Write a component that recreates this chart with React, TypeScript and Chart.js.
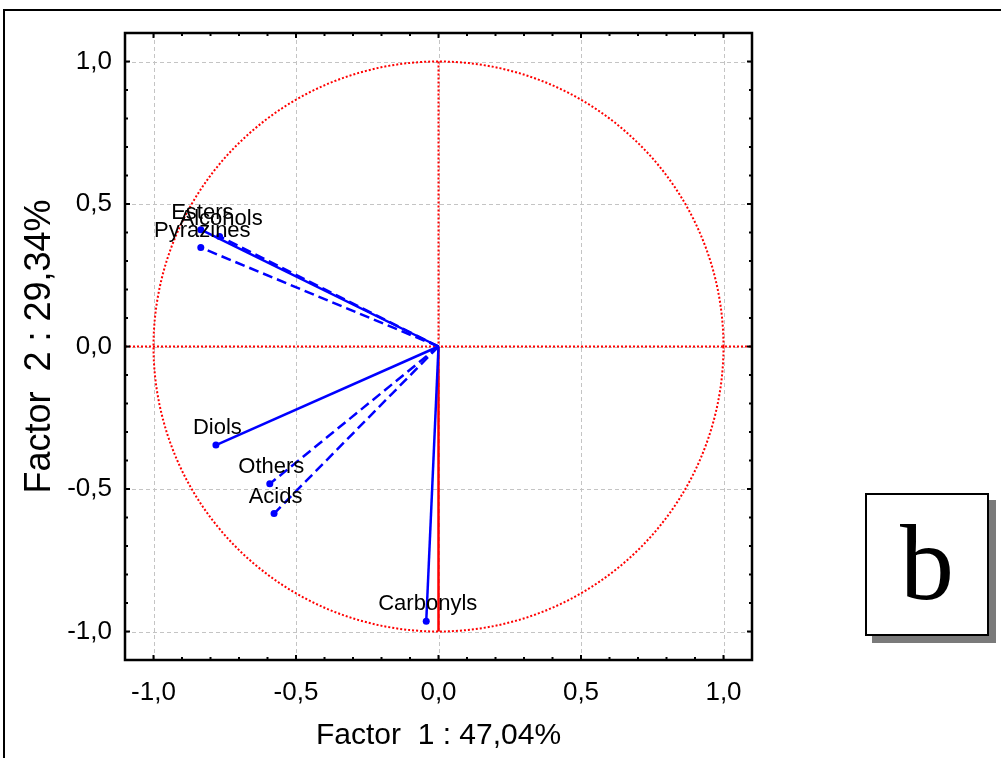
import React, { useEffect, useRef } from "react";
import { Chart, registerables } from "chart.js";
Chart.register(...registerables);

const variables = ["Esters", "Alcohols", "Pyrazines", "Diols", "Others", "Acids", "Carbonyls"];
const factor1 = [-0.834, -0.768, -0.834, -0.781, -0.592, -0.577, -0.043];
const factor2 = [0.41, 0.386, 0.347, -0.346, -0.482, -0.586, -0.964];
const majorTicks = [-1.0, -0.5, 0.0, 0.5, 1.0];
const minorTicks = [-1.0, -0.9, -0.8, -0.7, -0.6, -0.5, -0.4, -0.3, -0.2, -0.1, 0.0, 0.1, 0.2, 0.3, 0.4, 0.5, 0.6, 0.7, 0.8, 0.9, 1.0];
const xTitle = "Factor  1 : 47,04%";
const yTitle = "Factor  2 : 29,34%";
const panelLetter = "b";

const dashedVars = new Set(["Alcohols", "Pyrazines", "Others", "Acids"]);
const SANS = '"Liberation Sans", Arial, sans-serif';

const fmt = (v: number) => (Math.abs(v) < 1e-9 ? "0,0" : v.toFixed(1).replace(".", ","));

const decorPlugin = {
  id: "decor",
  beforeDatasetsDraw(chart: any) {
    const { ctx, chartArea: a, scales } = chart;
    const x = scales.x, y = scales.y;
    const line = (x1: number, y1: number, x2: number, y2: number) => {
      ctx.beginPath();
      ctx.moveTo(x1, y1);
      ctx.lineTo(x2, y2);
      ctx.stroke();
    };
    ctx.save();
    ctx.strokeStyle = "#c4c4c4";
    ctx.lineWidth = 1;
    ctx.setLineDash([4, 3]);
    majorTicks.forEach((v) => {
      const px = Math.round(x.getPixelForValue(v)) + 0.5;
      line(px, a.top, px, a.bottom);
      const py = Math.round(y.getPixelForValue(v)) + 0.5;
      line(a.left, py, a.right, py);
    });
    const cx = x.getPixelForValue(0), cy = y.getPixelForValue(0);
    const rx = x.getPixelForValue(1) - cx, ry = cy - y.getPixelForValue(1);
    ctx.strokeStyle = "#ff0000";
    ctx.lineWidth = 2;
    ctx.setLineDash([2, 2]);
    ctx.beginPath();
    ctx.ellipse(cx, cy, rx, ry, 0, 0, Math.PI * 2);
    ctx.stroke();
    line(a.left, cy, a.right, cy);
    line(cx, y.getPixelForValue(1), cx, cy);
    ctx.setLineDash([]);
    ctx.lineWidth = 2.5;
    line(cx, cy, cx, y.getPixelForValue(-1));
    ctx.restore();
  },
  afterDraw(chart: any) {
    const { ctx, chartArea: a, scales } = chart;
    const x = scales.x, y = scales.y;
    const line = (x1: number, y1: number, x2: number, y2: number) => {
      ctx.beginPath();
      ctx.moveTo(x1, y1);
      ctx.lineTo(x2, y2);
      ctx.stroke();
    };
    ctx.save();
    ctx.strokeStyle = "#000";
    ctx.lineWidth = 2;
    ctx.setLineDash([]);
    minorTicks.forEach((v) => {
      const len = majorTicks.some((m) => Math.abs(m - v) < 1e-9) ? 5 : 3;
      const px = x.getPixelForValue(v);
      line(px, a.top, px, a.top + len);
      line(px, a.bottom, px, a.bottom - len);
      const py = y.getPixelForValue(v);
      line(a.left, py, a.left + len, py);
      line(a.right, py, a.right - len, py);
    });
    ctx.lineWidth = 2.5;
    ctx.strokeRect(a.left, a.top, a.right - a.left, a.bottom - a.top);
    ctx.fillStyle = "#000";
    ctx.font = `22px ${SANS}`;
    ctx.textAlign = "center";
    ctx.textBaseline = "alphabetic";
    variables.forEach((name, i) => {
      const px = x.getPixelForValue(factor1[i]);
      const py = y.getPixelForValue(factor2[i]);
      ctx.fillText(name, px + 1.5, py - 11);
    });
    ctx.restore();
  },
};

export default function App() {
  const ref = useRef<HTMLCanvasElement | null>(null);
  useEffect(() => {
    if (!ref.current) return;
    const datasets = variables.map((name, i) => ({
      label: name,
      data: [
        { x: 0, y: 0 },
        { x: factor1[i], y: factor2[i] },
      ],
      showLine: true,
      borderColor: "#0000ff",
      backgroundColor: "#0000ff",
      borderWidth: 2.5,
      borderDash: dashedVars.has(name) ? [10, 5] : [],
      pointRadius: [0, 3.5],
      pointBackgroundColor: "#0000ff",
      pointBorderWidth: 0,
    }));
    const chart = new Chart(ref.current, {
      type: "scatter",
      data: { datasets },
      options: {
        animation: false,
        responsive: false,
        devicePixelRatio: 1,
        layout: { padding: { left: 0, top: 33, right: 249, bottom: 0 } },
        plugins: { legend: { display: false }, tooltip: { enabled: false } },
        scales: {
          x: {
            type: "linear",
            min: -1.1,
            max: 1.1,
            afterBuildTicks: (s: any) => {
              s.ticks = majorTicks.map((v) => ({ value: v }));
            },
            afterFit: (s: any) => {
              s.height = 98;
            },
            grid: { display: false, drawTicks: false },
            border: { display: false },
            ticks: {
              color: "#000",
              padding: 17,
              font: { family: SANS, size: 26 },
              callback: (v: any) => fmt(Number(v)),
            },
            title: {
              display: true,
              text: xTitle,
              color: "#000",
              font: { family: SANS, size: 30 },
              padding: { top: 0, bottom: 4 },
            },
          },
          y: {
            type: "linear",
            min: -1.1,
            max: 1.1,
            afterBuildTicks: (s: any) => {
              s.ticks = majorTicks.map((v) => ({ value: v }));
            },
            afterFit: (s: any) => {
              s.width = 125;
            },
            grid: { display: false, drawTicks: false },
            border: { display: false },
            ticks: {
              color: "#000",
              padding: 13,
              font: { family: SANS, size: 26 },
              callback: (v: any) => fmt(Number(v)),
            },
            title: {
              display: true,
              text: yTitle,
              color: "#000",
              font: { family: SANS, size: 36 },
              padding: { top: 18, bottom: 0 },
            },
          },
        },
      },
      plugins: [decorPlugin],
    } as any);
    return () => chart.destroy();
  }, []);

  return (
    <div style={{ position: "absolute", left: 0, top: 0, width: 1001, height: 758, background: "#fff", overflow: "hidden" }}>
      <canvas ref={ref} width={1001} height={758} style={{ position: "absolute", left: 0, top: 0, width: 1001, height: 758 }} />
      <div style={{ position: "absolute", left: 3, top: 9, width: 1010, height: 760, borderLeft: "2px solid #000", borderTop: "2px solid #000" }} />
      <div
        style={{
          position: "absolute",
          left: 865,
          top: 493,
          width: 120,
          height: 139,
          border: "2px solid #000",
          background: "#fff",
          boxShadow: "7px 7px 0 #7a7a7a",
          display: "flex",
          alignItems: "center",
          justifyContent: "center",
          fontFamily: '"Liberation Serif", "Times New Roman", serif',
          fontSize: 108,
          lineHeight: 1,
          color: "#000",
        }}
      >
        <span style={{ position: "relative", top: -2 }}>{panelLetter}</span>
      </div>
    </div>
  );
}
